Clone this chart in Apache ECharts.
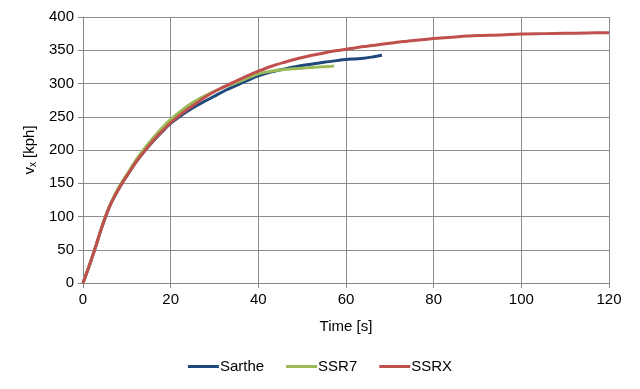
<!DOCTYPE html>
<html>
<head>
<meta charset="utf-8">
<script src="https://cdn.jsdelivr.net/npm/echarts@6/dist/echarts.min.js"></script>
<style>html,body{margin:0;padding:0;background:#fff}#c{width:640px;height:389px}</style>
</head>
<body>
<div id="c"></div>
<script>
var xTicks = [0, 20, 40, 60, 80, 100, 120];
var yTicks = [0, 50, 100, 150, 200, 250, 300, 350, 400];

var sartheT = [0,1,2,3,4,5,6,7,8,9,10,12,14,16,18,20,22,24,26,28,30,32,34,36,38,40,43,46,49,52,55,58,60,62,64,66,68.2];
var sartheV = [0,18,37,57,78,97,114,128,140,151,161,181,198,213,227,240,250,259,267,274,281,288,294,300,306,311.5,317.5,322,326,329,332,334.5,336,337,338,340,342.5];

var ssr7T = [0,1,2,3,4,5,6,7,8,9,10,12,14,16,18,20,22,24,26,28,30,32,34,36,38,40,42,44,46,48,50,52,54,56,57.3];
var ssr7V = [0,18,37,57,78,98,115,129,142,153,163,184,202,218,233,246,257,267,275,282,288,294,299,304,309.5,314.5,317.5,319.5,321,322,323,324,325,325.5,326.5];

var ssrxT = [0,1,2,3,4,5,6,7,8,9,10,12,14,16,18,20,22,24,26,28,30,32,34,36,38,40,43,46,49,52,55,58,61,64,67,70,73,76,80,85,90,95,100,105,110,115,120];
var ssrxV = [0,18,37,57,78,97,114,128,140,151,161,181,198,214,228,241,252,262,271,280,288,294.5,301,307,313,318.5,326,332,337.5,342,346,349.5,352.5,355.5,358,360.5,363,365,367.5,370,372,373,374.5,375,375.5,376,376.5];

function pairs(t, v) { return t.map(function (x, i) { return [x, v[i]]; }); }

var font = 'Liberation Sans, Arial, sans-serif';
var chart = echarts.init(document.getElementById('c'), null, {renderer: 'canvas'});
chart.setOption({
  animation: false,
  grid: {left: 83, right: 31, top: 17, bottom: 106},
  legend: {
    bottom: 10, left: 'center',
    icon: 'rect', itemWidth: 31, itemHeight: 3, itemGap: 22,
    textStyle: {fontFamily: font, fontSize: 15, color: '#000', padding: [0, 0, 0, -4]},
    data: ['Sarthe', 'SSR7', 'SSRX']
  },
  xAxis: {
    type: 'value', min: xTicks[0], max: xTicks[xTicks.length - 1], interval: 20,
    name: 'Time [s]', nameLocation: 'middle', nameGap: 36,
    nameTextStyle: {fontFamily: font, fontSize: 15, color: '#000'},
    axisLine: {show: true, lineStyle: {color: '#888', width: 1}},
    axisTick: {show: true, length: 5, lineStyle: {color: '#888'}},
    axisLabel: {fontFamily: font, fontSize: 15, color: '#000', margin: 9},
    splitLine: {show: true, lineStyle: {color: '#8c8c8c', width: 1}}
  },
  yAxis: {
    type: 'value', min: yTicks[0], max: yTicks[yTicks.length - 1], interval: 50,
    name: 'v{sub|x} [kph]', nameLocation: 'middle', nameGap: 41, nameRotate: 90,
    nameTextStyle: {fontFamily: font, fontSize: 15, color: '#000',
      rich: {sub: {fontFamily: font, fontSize: 10, color: '#000', verticalAlign: 'bottom', padding: [6, 0, 0, 0]}}},
    axisLine: {show: true, lineStyle: {color: '#888', width: 1}},
    axisTick: {show: true, length: 5, lineStyle: {color: '#888'}},
    axisLabel: {fontFamily: font, fontSize: 15, color: '#000', margin: 9},
    splitLine: {show: true, lineStyle: {color: '#8c8c8c', width: 1}}
  },
  series: [
    {name: 'Sarthe', type: 'line', showSymbol: false, smooth: 0.3, color: '#1f497d',
     lineStyle: {width: 3}, data: pairs(sartheT, sartheV)},
    {name: 'SSR7', type: 'line', showSymbol: false, smooth: 0.3, color: '#9bbb59',
     lineStyle: {width: 3}, data: pairs(ssr7T, ssr7V)},
    {name: 'SSRX', type: 'line', showSymbol: false, smooth: 0.3, color: '#c0504d',
     lineStyle: {width: 3}, data: pairs(ssrxT, ssrxV)}
  ]
});
</script>
</body>
</html>
